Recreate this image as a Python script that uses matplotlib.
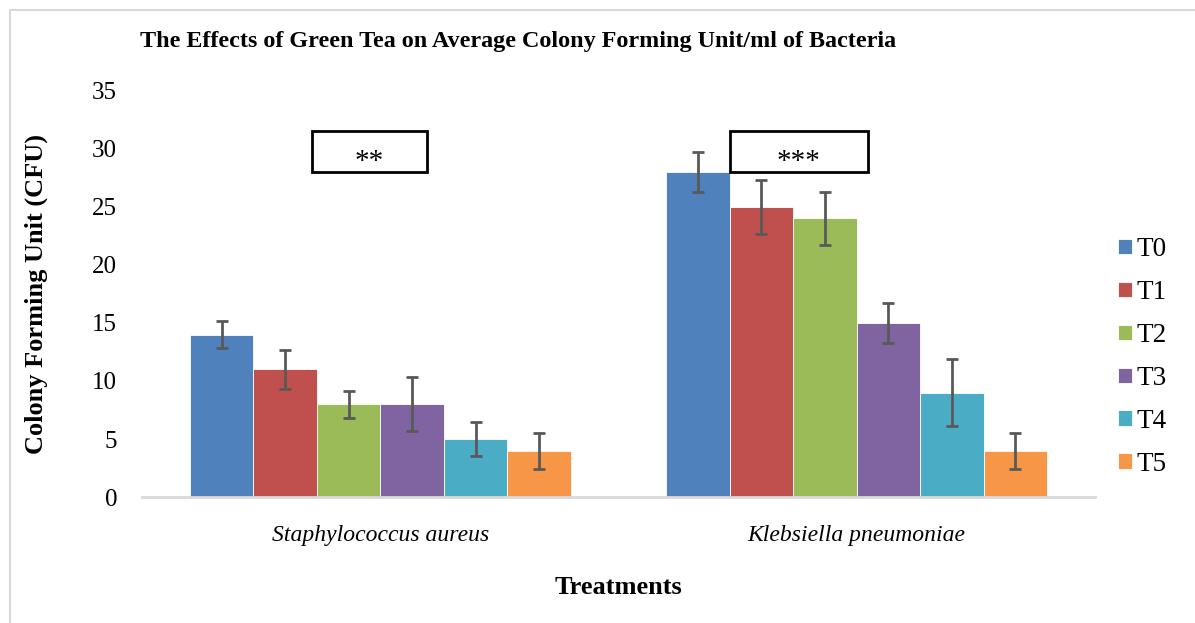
import numpy as np
import matplotlib.pyplot as plt
from matplotlib.patches import Rectangle

species = ["Staphylococcus aureus", "Klebsiella pneumoniae"]
treatments = ["T0", "T1", "T2", "T3", "T4", "T5"]
colors = ["#4F81BD", "#C0504D", "#9BBB59", "#8064A2", "#4BACC6", "#F79646"]

# mean CFU per treatment: [S. aureus, K. pneumoniae]
means = [
    [14, 28],
    [11, 25],
    [8, 24],
    [8, 15],
    [5, 9],
    [4, 4],
]
errors = [
    [1.2, 1.7],
    [1.7, 2.3],
    [1.15, 2.3],
    [2.3, 1.7],
    [1.5, 2.9],
    [1.55, 1.55],
]
sig_labels = ["**", "***"]

plt.rcParams['font.family'] = ['Liberation Serif', 'DejaVu Serif']

fig = plt.figure(figsize=(11.95, 6.23), dpi=100)
ax = fig.add_axes([0.119, 0.2022, 0.797, 0.652])

# chart border (light grey frame)
fig.patches.append(Rectangle((0.0084, -0.02), 1.0, 1.004, transform=fig.transFigure,
                             fill=False, edgecolor="#d9d9d9", linewidth=1.5))

x = np.arange(len(species))
w = 0.8 / len(treatments)
for i, t in enumerate(treatments):
    pos = x - 0.4 + w * (i + 0.5)
    ax.bar(pos, means[i], width=w, color=colors[i], edgecolor="white", linewidth=0.6, label=t)
    ax.errorbar(pos, means[i], yerr=errors[i], fmt="none", ecolor="#595959",
                elinewidth=2, capsize=4.5, capthick=2)

# significance boxes
boxes = [(-0.143, 0.098), (0.734, 1.024)]
for (x0, x1), lab in zip(boxes, sig_labels):
    ax.add_patch(Rectangle((x0, 28.0), x1 - x0, 3.5, fill=False, edgecolor="black",
                           linewidth=2, clip_on=False))
    ax.text((x0 + x1) / 2, 28.9, lab, ha="center", va="center", fontsize=21)

ax.set_xlim(-0.5, 1.5)
ax.set_ylim(0, 35)
ax.set_yticks(range(0, 36, 5))
ax.set_xticks(x)
ax.set_xticklabels(species, fontstyle="italic", fontsize=17)
ax.tick_params(axis="y", length=0, pad=18, labelsize=18)
ax.tick_params(axis="x", length=0, pad=20)
for s in ["top", "right", "left"]:
    ax.spines[s].set_visible(False)
ax.spines["bottom"].set_color("#d9d9d9")
ax.spines["bottom"].set_linewidth(2)

ax.set_ylabel("Colony Forming Unit (CFU)", fontsize=19, fontweight="bold", va="center")
ax.yaxis.set_label_coords(-0.111, 0.5)
ax.set_xlabel("Treatments", fontsize=19, fontweight="bold", va="center")
ax.xaxis.set_label_coords(0.5, -0.222)
fig.text(140 / 1195, 1 - 42 / 623, "The Effects of Green Tea on Average Colony Forming Unit/ml of Bacteria",
         fontsize=17.4, fontweight="bold", ha="left", va="center")

fig.legend(loc="center left", bbox_to_anchor=(1118 / 1195, 1 - 357 / 623), frameon=False,
           fontsize=19.5, handlelength=0.5, handleheight=0.5, handletextpad=0.2,
           labelspacing=0.66, borderaxespad=0, borderpad=0)

fig.savefig("out.png", dpi=100)
